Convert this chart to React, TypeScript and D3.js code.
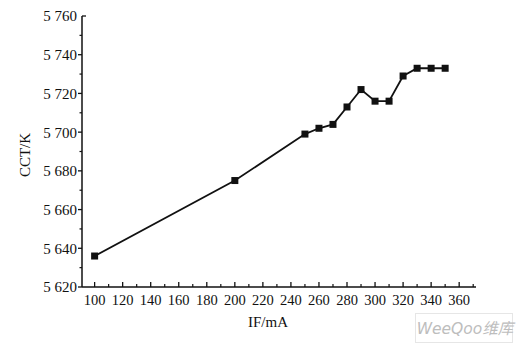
import * as d3 from "d3";
import React from "react";

// IF (mA) and CCT (K)
const current = [100, 200, 250, 260, 270, 280, 290, 300, 310, 320, 330, 340, 350];
const cct = [5636, 5675, 5699, 5702, 5704, 5713, 5722, 5716, 5716, 5729, 5733, 5733, 5733];

const xTicks = [100, 120, 140, 160, 180, 200, 220, 240, 260, 280, 300, 320, 340, 360];
const xMinor = d3.range(110, 371, 20);
const yTicks = [5620, 5640, 5660, 5680, 5700, 5720, 5740, 5760];
const yMinor = d3.range(5630, 5760, 20);

const fmt = (v: number) => `${Math.floor(v / 1000)} ${String(v % 1000).padStart(3, "0")}`;

const W = 520;
const H = 345;
const serif = "'Liberation Serif', 'DejaVu Serif', serif";

const App: React.FC = () => {
  const x = d3.scaleLinear().domain([91, 372]).range([82, 476]);
  const y = d3.scaleLinear().domain([5620, 5760]).range([287, 16]);

  const pts = current.map((c, i) => ({ c, v: cct[i] }));
  const line = d3
    .line<{ c: number; v: number }>()
    .x((d) => x(d.c))
    .y((d) => y(d.v));

  const x0 = x.range()[0];
  const y0 = y.range()[0];

  return (
    <svg
      width={W}
      height={H}
      style={{ position: "absolute", left: 0, top: 0, background: "#fff" }}
      fontFamily={serif}
    >
      {/* axes */}
      <line x1={x0} x2={x0} y1={y(5760)} y2={y0} stroke="#111" strokeWidth={1.5} />
      <line x1={x0} x2={x.range()[1]} y1={y0} y2={y0} stroke="#111" strokeWidth={1.5} />

      {yTicks.map((t) => (
        <g key={t}>
          <line
            x1={t === 5760 ? x0 : x0 - 4}
            x2={t === 5760 ? x0 + 4 : x0}
            y1={y(t)}
            y2={y(t)}
            stroke="#111"
            strokeWidth={1.3}
          />
          <text x={77} y={y(t)} dy="0.36em" textAnchor="end" fontSize={15} fill="#111">
            {fmt(t)}
          </text>
        </g>
      ))}
      {yMinor.map((t) => (
        <line key={t} x1={x0 - 2.5} x2={x0} y1={y(t)} y2={y(t)} stroke="#111" strokeWidth={1.2} />
      ))}

      {xTicks.map((t) => (
        <g key={t}>
          <line x1={x(t)} x2={x(t)} y1={y0} y2={y0 - 5} stroke="#111" strokeWidth={1.3} />
          <text x={x(t)} y={305} textAnchor="middle" fontSize={14.5} fill="#111">
            {t}
          </text>
        </g>
      ))}
      {xMinor.map((t) => (
        <line key={t} x1={x(t)} x2={x(t)} y1={y0} y2={y0 - 3} stroke="#111" strokeWidth={1.2} />
      ))}

      <text
        transform={`translate(30,155) rotate(-90)`}
        textAnchor="middle"
        fontSize={15}
        fill="#111"
      >
        CCT/K
      </text>
      <text x={268} y={327} textAnchor="middle" fontSize={15} fill="#111">
        IF/mA
      </text>

      {/* data */}
      <path d={line(pts) ?? ""} fill="none" stroke="#111" strokeWidth={1.8} />
      {pts.map((d) => (
        <rect key={d.c} x={x(d.c) - 3.5} y={y(d.v) - 3.5} width={7} height={7} fill="#111" />
      ))}

      {/* watermark */}
      <rect x={415.5} y={313.5} width={97} height={29} fill="none" stroke="#e6e6e6" />
      <text
        x={465}
        y={334}
        textAnchor="middle"
        fontSize={15.5}
        fontStyle="italic"
        fontFamily="'DejaVu Sans', 'Noto Sans CJK SC', sans-serif"
        fill="#bdbdbd"
      >
        WeeQoo维库
      </text>
    </svg>
  );
};

export default App;
